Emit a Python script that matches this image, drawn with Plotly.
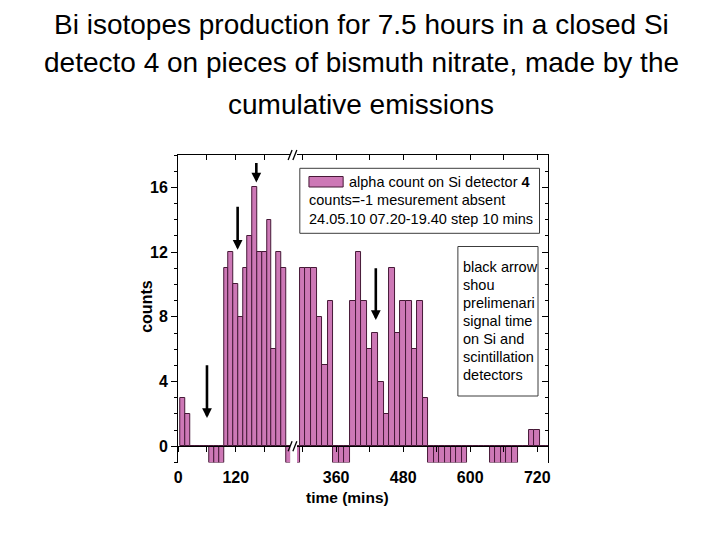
import plotly.graph_objects as go

# ---------------- data ----------------
left_time = [10, 20, 30, 40, 50, 60, 70, 80, 90, 100, 110, 120, 130, 140, 150, 160,
             170, 180, 190, 200, 210, 220, 230]
left_counts = [3, 2, 0, 0, 0, 0, -1, -1, -1, 11, 12, 10, 8, 11, 13, 16,
               12, 12, 14, 6, 12, 11, -1]

right_time = [290, 300, 310, 320, 330, 340, 350, 360, 370, 380, 390, 400, 410, 420,
              430, 440, 450, 460, 470, 480, 490, 500, 510, 520, 530, 540, 550, 560,
              570, 580, 590, 600, 610, 620, 630, 640, 650, 660, 670, 680, 690, 700,
              710, 720, 730, 740]
right_counts = [-1, 11, 11, 11, 8, 5, 9, -1, -1, -1, 9, 12, 9, 6,
                7, 4, 2, 11, 7, 9, 9, 6, 9, 3, -1, -1, -1, -1,
                -1, -1, -1, 0, 0, 0, 0, -1, -1, -1, -1, -1, 0, 0,
                1, 1, 0, 0]

left_ticks = [0, 120]
right_ticks = [360, 480, 600, 720]
y_ticks = [0, 4, 8, 12, 16]

# arrows: (axis, x, tail value, tip value)
arrow_axis = ["x", "x", "x", "x2"]
arrow_x = [60, 124, 163, 431]
arrow_tail = [5.1, 14.9, 17.6, 11.1]
arrow_tip = [1.75, 12.15, 16.3, 7.8]

title_lines = ["Bi isotopes production for 7.5 hours in a closed Si",
               "detecto 4 on pieces of bismuth nitrate, made by the",
               "cumulative emissions"]
legend_lines = ["alpha count on Si detector <b>4</b>",
                "counts=-1 mesurement absent",
                "24.05.10 07.20-19.40 step 10 mins"]
note_lines = ["black arrow", "shou", "prelimenari", "signal time",
              "on Si and", "scintillation", "detectors"]

# ---------------- style / layout ----------------
W, H = 720, 540
FONT = "Liberation Sans, Arial, sans-serif"
BAR_FILL = "rgb(205,120,182)"
BAR_LINE = "rgb(70,25,55)"


def px(x):
    return x / W


def py(y):
    return 1 - y / H


XL_DOM = [px(175.7), px(288.5)]
XR_DOM = [px(295.5), px(549)]
Y_DOM = [py(462.5), py(155)]
YR = [-1, 18]
XL_R = [0, 233.5]
XR_R = [290, 740]
zero_pos = Y_DOM[0] + (0 - YR[0]) / (YR[1] - YR[0]) * (Y_DOM[1] - Y_DOM[0])

fig = go.Figure()
fig.add_trace(go.Bar(x=left_time, y=left_counts, width=10, xaxis="x", yaxis="y",
                     marker=dict(color=BAR_FILL, line=dict(color=BAR_LINE, width=1)),
                     name="alpha count on Si detector 4", showlegend=False))
fig.add_trace(go.Bar(x=right_time, y=right_counts, width=10, xaxis="x2", yaxis="y",
                     marker=dict(color=BAR_FILL, line=dict(color=BAR_LINE, width=1)),
                     showlegend=False))
for xa, ya in [("x3", "y"), ("x4", "y"), ("x5", "y"), ("x6", "y"), ("x2", "y2")]:
    fig.add_trace(go.Scatter(x=[], y=[], xaxis=xa, yaxis=ya, showlegend=False,
                             hoverinfo="skip"))

tickfont = dict(family=FONT, size=16, color="black", weight="bold")
base = dict(showgrid=False, zeroline=False, linecolor="black", linewidth=1.3,
            tickcolor="black", tickwidth=1.2)

fig.update_layout(
    width=W, height=H, margin=dict(l=0, r=0, t=0, b=0),
    plot_bgcolor="white", paper_bgcolor="white", showlegend=False,
    bargap=0, barmode="overlay", font=dict(family=FONT, color="black"),
    xaxis=dict(domain=XL_DOM, range=XL_R, anchor="y", showline=False, ticks="",
               tickvals=left_ticks, tickfont=tickfont, ticklabelstandoff=3, **base),
    xaxis2=dict(domain=XR_DOM, range=XR_R, anchor="y", showline=False, ticks="",
                tickvals=right_ticks, tickfont=tickfont, ticklabelstandoff=3, **base),
    xaxis3=dict(domain=XL_DOM, range=XL_R, overlaying="x", anchor="free", position=zero_pos,
                showline=True, ticks="outside", ticklen=5, tick0=0, dtick=60,
                showticklabels=False, **base),
    xaxis4=dict(domain=XR_DOM, range=XR_R, overlaying="x2", anchor="free", position=zero_pos,
                showline=True, ticks="outside", ticklen=5, tick0=0, dtick=60,
                showticklabels=False, **base),
    xaxis5=dict(domain=XL_DOM, range=XL_R, overlaying="x", anchor="y", side="top",
                showline=True, ticks="inside", ticklen=5, tick0=0, dtick=60,
                showticklabels=False, **base),
    xaxis6=dict(domain=XR_DOM, range=XR_R, overlaying="x2", anchor="y", side="top",
                showline=True, ticks="inside", ticklen=5, tick0=0, dtick=60,
                showticklabels=False, **base),
    yaxis=dict(domain=Y_DOM, range=YR, anchor="x", showline=True, ticks="outside",
               ticklen=6, tickvals=y_ticks, tickfont=tickfont,
               minor=dict(dtick=1, tick0=0, ticks="outside", ticklen=3, tickcolor="black"),
               **base),
    yaxis2=dict(domain=Y_DOM, range=YR, overlaying="y", anchor="x2", side="right",
                showline=True, ticks="inside", ticklen=6, tickvals=y_ticks,
                showticklabels=False,
                minor=dict(dtick=1, tick0=0, ticks="inside", ticklen=3, tickcolor="black"),
                **base),
)

ann = []
# title
for txt, yc in zip(title_lines, [25, 62, 105]):
    ann.append(dict(text=txt, x=0.5, y=py(yc), xref="paper", yref="paper",
                    xanchor="center", yanchor="middle", showarrow=False,
                    font=dict(family=FONT, size=28, color="black")))
# axis titles
ann.append(dict(text="counts", x=px(143), y=py(306), xref="paper", yref="paper",
                textangle=-90, showarrow=False, xanchor="center", yanchor="middle",
                font=dict(family=FONT, size=16, color="black", weight="bold")))
ann.append(dict(text="time (mins)", x=px(346.5), y=py(497), xref="paper", yref="paper",
                showarrow=False, xanchor="center", yanchor="middle",
                font=dict(family=FONT, size=15.5, color="black", weight="bold")))
# legend text
leg_font = dict(family=FONT, size=14.5, color="black")
ann.append(dict(text=legend_lines[0], x=px(346), y=py(182), xref="paper", yref="paper",
                showarrow=False, xanchor="left", yanchor="middle", font=leg_font))
for txt, yc in zip(legend_lines[1:], [200, 218.5]):
    ann.append(dict(text=txt, x=px(306), y=py(yc), xref="paper", yref="paper",
                    showarrow=False, xanchor="left", yanchor="middle", font=leg_font))
# note box text
for i, txt in enumerate(note_lines):
    ann.append(dict(text=txt, x=px(461), y=py(266.5 + 18.1 * i), xref="paper", yref="paper",
                    showarrow=False, xanchor="left", yanchor="middle", font=leg_font))
# arrows
for ax_, xv, tail, tip in zip(arrow_axis, arrow_x, arrow_tail, arrow_tip):
    ann.append(dict(text="", x=xv, y=tip, xref=ax_, yref="y", ax=xv, ay=tail,
                    axref=ax_, ayref="y", showarrow=True, arrowhead=2, arrowsize=0.75,
                    arrowwidth=2.6, arrowcolor="black", standoff=0))
fig.update_layout(annotations=ann)

shapes = []
# legend box + swatch
shapes.append(dict(type="rect", xref="paper", yref="paper", x0=px(298.3), x1=px(540),
                   y0=py(233.3), y1=py(168.3), line=dict(color="rgb(60,60,60)", width=1),
                   fillcolor="rgba(0,0,0,0)"))
shapes.append(dict(type="rect", xref="paper", yref="paper", x0=px(307.5), x1=px(342),
                   y0=py(187), y1=py(176.5), line=dict(color=BAR_LINE, width=1),
                   fillcolor=BAR_FILL))
# note box
shapes.append(dict(type="rect", xref="paper", yref="paper", x0=px(457.7), x1=px(538.5),
                   y0=py(396), y1=py(246.5), line=dict(color="rgb(60,60,60)", width=1),
                   fillcolor="rgba(0,0,0,0)"))
# axis break marks
zero_py = H * (1 - zero_pos)
for yc in [155, zero_py]:
    for x0 in [286.5, 291.3]:
        shapes.append(dict(type="line", xref="paper", yref="paper",
                           x0=px(x0), y0=py(yc + 5), x1=px(x0 + 4), y1=py(yc - 5),
                           line=dict(color="black", width=1.3)))
fig.update_layout(shapes=shapes)

fig.write_html("out.html")
